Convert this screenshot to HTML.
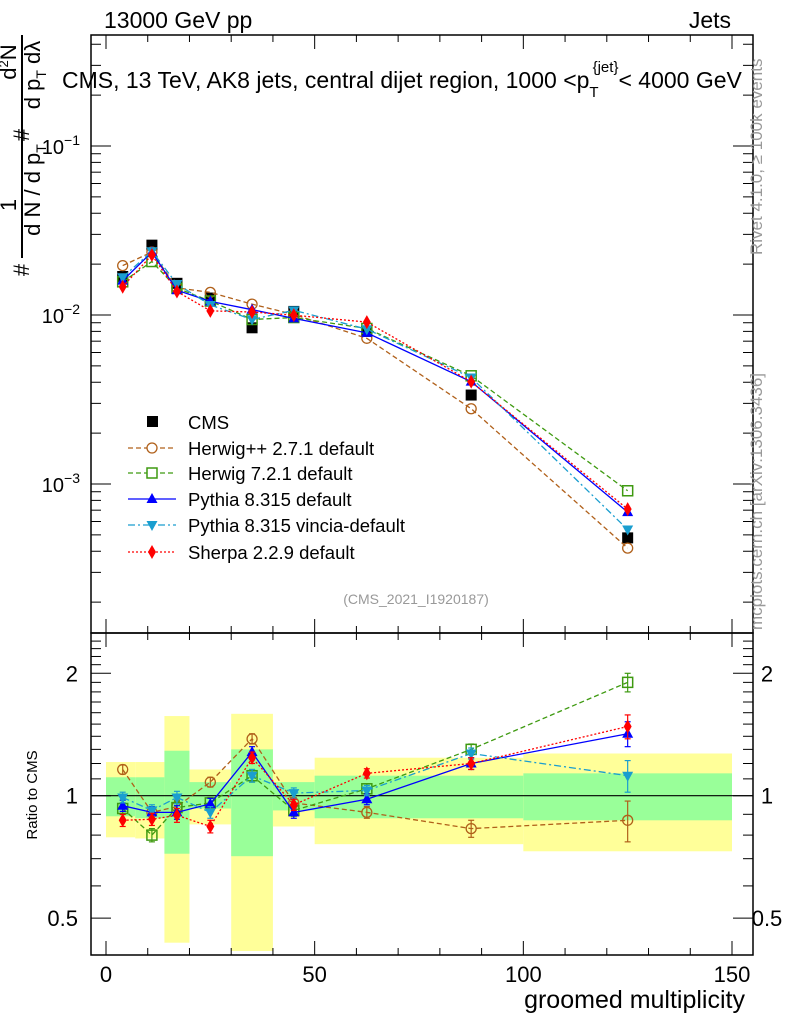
<!DOCTYPE html>
<html><head><meta charset="utf-8"><style>
body{margin:0;background:#fff;}
svg{display:block;font-family:"Liberation Sans",sans-serif;}
</style></head><body>
<svg id="chart" width="786" height="1024" viewBox="0 0 786 1024" xmlns="http://www.w3.org/2000/svg"></svg>
<script>
// ---- data ----
const binEdges = [0,7,14,20,30,40,50,75,100,150];
const binCenters = [4,11,17,25,35,45,62.5,87.5,125];
const cmsValues = [0.0169,0.0259,0.0154,0.0126,0.0084,0.0105,0.0080,0.00336,0.00048];
const yellowUp = [1.21,1.21,1.57,1.16,1.59,1.16,1.24,1.24,1.27];
const yellowDn = [0.79,0.785,0.435,0.85,0.415,0.84,0.76,0.76,0.73];
const greenUp = [1.11,1.11,1.29,1.08,1.30,1.08,1.12,1.12,1.135];
const greenDn = [0.89,0.88,0.72,0.93,0.71,0.92,0.88,0.88,0.87];
const ratioHerwigpp = [1.16,0.91,0.94,1.08,1.38,0.96,0.91,0.83,0.87];
const ratioHerwig7 = [0.93,0.80,0.935,0.96,1.12,0.92,1.04,1.30,1.90];
const ratioPythia = [0.945,0.91,0.91,0.955,1.28,0.91,0.98,1.20,1.42];
const ratioVincia = [0.99,0.92,0.99,0.91,1.12,1.015,1.03,1.27,1.12];
const ratioSherpa = [0.87,0.875,0.895,0.84,1.24,0.95,1.135,1.20,1.48];
const ratioErr = [0.03,0.03,0.035,0.03,0.04,0.03,0.03,0.04,0.1];
const xTicks = [0,50,100,150];
const yMainTicks = [-1,-2,-3];
const yRatioTicks = [0.5,1,2];

// ---- geometry ----
const L=91,R=753,T=35,M=633,B=955;
const X0=106,XS=(732-106)/150;
const xs = v => X0 + v*XS;
const ym = v => 315 - (Math.log10(v)+2)*169;
const yr = v => 795.7 - Math.log2(v)*122.4;
const NS="http://www.w3.org/2000/svg";
const svg=document.getElementById('chart');
function mk(tag,attrs,parent){const e=document.createElementNS(NS,tag);for(const k in attrs)e.setAttribute(k,attrs[k]);(parent||svg).appendChild(e);return e;}
function txt(s,x,y,size,anchor,parent,extra){const e=mk('text',Object.assign({x:x,y:y,'font-size':size,'text-anchor':anchor||'start',fill:'#000'},extra||{}),parent);e.textContent=s;return e;}

// bands
const gBands=mk('g',{});


for(let i=0;i<binCenters.length;i++){
  const x1=xs(binEdges[i]),x2=xs(binEdges[i+1]);
  const ry=mk('rect',{x:x1,y:yr(yellowUp[i]),width:x2-x1,height:yr(yellowDn[i])-yr(yellowUp[i]),fill:'#ffff99'},gBands);
  
  
  const rg=mk('rect',{x:x1,y:yr(greenUp[i]),width:x2-x1,height:yr(greenDn[i])-yr(greenUp[i]),fill:'#99ff99'},gBands);
  
  
}
mk('line',{x1:L,x2:R,y1:yr(1),y2:yr(1),stroke:'#000','stroke-width':1.2});

// CMS data (drawn under models)
const gc=mk('g',{});



// series
const series=[
 {name:'herwigpp',ratio:ratioHerwigpp,color:'#b0601a',dash:'5,3',marker:'circle'},
 {name:'herwig7',ratio:ratioHerwig7,color:'#3e9a10',dash:'5,3',marker:'square'},
 {name:'pythia',ratio:ratioPythia,color:'#0000ff',dash:'',marker:'up'},
 {name:'vincia',ratio:ratioVincia,color:'#1a9ecf',dash:'7,3,2,3',marker:'down'},
 {name:'sherpa',ratio:ratioSherpa,color:'#ff0000',dash:'2,2',marker:'diamond'}
];
function marker(type,x,y,color,g){
  let e;
  if(type==='circle') e=mk('circle',{cx:x,cy:y,r:5,fill:'none',stroke:color,'stroke-width':1.3},g);
  else if(type==='square') e=mk('rect',{x:x-5,y:y-5,width:10,height:10,fill:'none',stroke:color,'stroke-width':1.5},g);
  else if(type==='up') e=mk('polygon',{points:`${x},${y-6} ${x-5.5},${y+4} ${x+5.5},${y+4}`,fill:color},g);
  else if(type==='down') e=mk('polygon',{points:`${x},${y+6} ${x-5.5},${y-4} ${x+5.5},${y-4}`,fill:color},g);
  else if(type==='diamond') e=mk('polygon',{points:`${x},${y-7} ${x-4},${y} ${x},${y+7} ${x+4},${y}`,fill:color},g);
  else e=mk('rect',{x:x-5.5,y:y-5.5,width:11,height:11,fill:color},g);
  return e;
}
binCenters.forEach((c,i)=>{
  const p=marker('filled',xs(c),ym(cmsValues[i]),'#000',gc);
  
  
});
series.forEach(s=>{
  const gm=mk('g',{});
  
  
  const gr=mk('g',{});
  
  
  const pm=binCenters.map((c,i)=>xs(c)+','+ym(cmsValues[i]*s.ratio[i])).join(' ');
  const pr=binCenters.map((c,i)=>xs(c)+','+yr(s.ratio[i])).join(' ');
  mk('polyline',{points:pm,fill:'none',stroke:s.color,'stroke-width':1.3,'stroke-dasharray':s.dash},gm);
  mk('polyline',{points:pr,fill:'none',stroke:s.color,'stroke-width':1.3,'stroke-dasharray':s.dash},gr);
  binCenters.forEach((c,i)=>{
    const x=xs(c);
    const v=s.ratio[i],e=ratioErr[i];
    mk('line',{x1:x,x2:x,y1:yr(v+e),y2:yr(v-e),stroke:s.color,'stroke-width':1.2},gr);
    mk('line',{x1:x-3,x2:x+3,y1:yr(v+e),y2:yr(v+e),stroke:s.color,'stroke-width':1.2},gr);
    mk('line',{x1:x-3,x2:x+3,y1:yr(v-e),y2:yr(v-e),stroke:s.color,'stroke-width':1.2},gr);
    const mm=marker(s.marker,x,ym(cmsValues[i]*v),s.color,gm);
    
    
    const mr=marker(s.marker,x,yr(v),s.color,gr);
    
    
  });
});

// frames
mk('rect',{x:L,y:T,width:R-L,height:M-T,fill:'none',stroke:'#000','stroke-width':1.5});
mk('rect',{x:L,y:M,width:R-L,height:B-M,fill:'none',stroke:'#000','stroke-width':1.5});
// x ticks
for(let v=0;v<=150;v+=10){
  const x=xs(v),big=(v%50===0)?14:7;
  [[T,1],[M,1],[M,-1],[B,-1]].forEach(([y,d])=>mk('line',{x1:x,x2:x,y1:y,y2:y+d*big,stroke:'#000','stroke-width':1}));
}
xTicks.forEach(v=>{const t=txt(String(v),xs(v),982,22,'middle');});
// main log ticks
for(let d=-4;d<=0;d++){for(let k=1;k<10;k++){const v=k*Math.pow(10,d);const y=ym(v);if(y<T||y>M)continue;const len=k===1?20:10;
 mk('line',{x1:L,x2:L+len,y1:y,y2:y,stroke:'#000'});mk('line',{x1:R,x2:R-len,y1:y,y2:y,stroke:'#000'});}}
yMainTicks.forEach(d=>{const y=ym(Math.pow(10,d));
 const t=mk('text',{x:80,y:y+8,'font-size':20,'text-anchor':'end',fill:'#000'});
 t.innerHTML='10<tspan dy="-9" font-size="14">'+(d===-1?'−1':d===-2?'−2':'−3')+'</tspan>';});
// ratio ticks
for(let v=0.4;v<=2.5;v+=0.1){const y=yr(v);if(y<M||y>B)continue;const major=Math.abs(v-0.5)<1e-6||Math.abs(v-1)<1e-6||Math.abs(v-2)<1e-6;const len=major?20:10;
 mk('line',{x1:L,x2:L+len,y1:y,y2:y,stroke:'#000'});mk('line',{x1:R,x2:R-len,y1:y,y2:y,stroke:'#000'});}
yRatioTicks.forEach(v=>{const y=yr(v);
 const a=txt(String(v),78,y+8,22,'end');
 const b=txt(String(v),767,y+8,22,'middle');});
</script>
<svg style="position:absolute;left:0;top:0" width="786" height="1024" font-family="Liberation Sans, sans-serif">
 <text x="104" y="28" font-size="23">13000 GeV pp</text>
 <text x="731" y="28" font-size="23" text-anchor="end">Jets</text>
 <text x="62" y="88" font-size="23">CMS, 13 TeV, AK8 jets, central dijet region, 1000 &lt;p<tspan dy="9" font-size="15">T</tspan><tspan dy="-25" dx="-6" font-size="15">{jet}</tspan><tspan dy="16">&lt; 4000 GeV</tspan></text>
 <text x="416" y="604" font-size="14" fill="#999" text-anchor="middle">(CMS_2021_I1920187)</text>
 <text x="745" y="1008" font-size="25" text-anchor="end">groomed multiplicity</text>
 <text transform="translate(37,795) rotate(-90)" font-size="15" text-anchor="middle">Ratio to CMS</text>
 <g font-size="22">
  <line x1="22" y1="35" x2="22" y2="258" stroke="#000" stroke-width="2"/>
  <text transform="translate(29,270) rotate(-90)" text-anchor="middle">#</text>
  <text transform="translate(16,205) rotate(-90)" text-anchor="middle">1</text>
  <text transform="translate(40,190) rotate(-90)" text-anchor="middle">d N / d p<tspan font-size="14" dy="6">T</tspan></text>
  <text transform="translate(29,135) rotate(-90)" text-anchor="middle">#</text>
  <text transform="translate(16,62) rotate(-90)" text-anchor="middle">d<tspan font-size="13" dy="-8">2</tspan><tspan dy="8">N</tspan></text>
  <text transform="translate(40,75) rotate(-90)" text-anchor="middle">d p<tspan font-size="14" dy="6">T</tspan><tspan dy="-6"> d</tspan>λ</text>
 </g>
 <text transform="translate(762,255) rotate(-90)" font-size="17" fill="#999">Rivet 4.1.0, ≥ 100k events</text>
 <text transform="translate(762,630) rotate(-90)" font-size="17" fill="#999">mcplots.cern.ch [arXiv:1306.3436]</text>
 <g font-size="18.5">
  <rect x="147" y="416" width="11" height="11" fill="#000"/>
  <text x="188" y="429">CMS</text>
  <line x1="128" x2="176" y1="448" y2="448" stroke="#b0601a" stroke-dasharray="5,3" stroke-width="1.3"/><circle cx="152" cy="448" r="5" fill="#fff" stroke="#b0601a" stroke-width="1.3"/>
  <text x="188" y="455">Herwig++ 2.7.1 default</text>
  <line x1="128" x2="176" y1="473" y2="473" stroke="#3e9a10" stroke-dasharray="5,3" stroke-width="1.3"/><rect x="147" y="468" width="10" height="10" fill="#fff" stroke="#3e9a10" stroke-width="1.5"/>
  <text x="188" y="480">Herwig 7.2.1 default</text>
  <line x1="128" x2="176" y1="499" y2="499" stroke="#0000ff" stroke-width="1.3"/><polygon points="152,493 146.5,503 157.5,503" fill="#0000ff"/>
  <text x="188" y="506">Pythia 8.315 default</text>
  <line x1="128" x2="176" y1="525" y2="525" stroke="#1a9ecf" stroke-dasharray="7,3,2,3" stroke-width="1.3"/><polygon points="152,531 146.5,521 157.5,521" fill="#1a9ecf"/>
  <text x="188" y="532">Pythia 8.315 vincia-default</text>
  <line x1="128" x2="176" y1="552" y2="552" stroke="#ff0000" stroke-dasharray="2,2" stroke-width="1.3"/><polygon points="152,545 148,552 152,559 156,552" fill="#ff0000"/>
  <text x="188" y="559">Sherpa 2.2.9 default</text>
 </g>
</svg>
</body></html>
